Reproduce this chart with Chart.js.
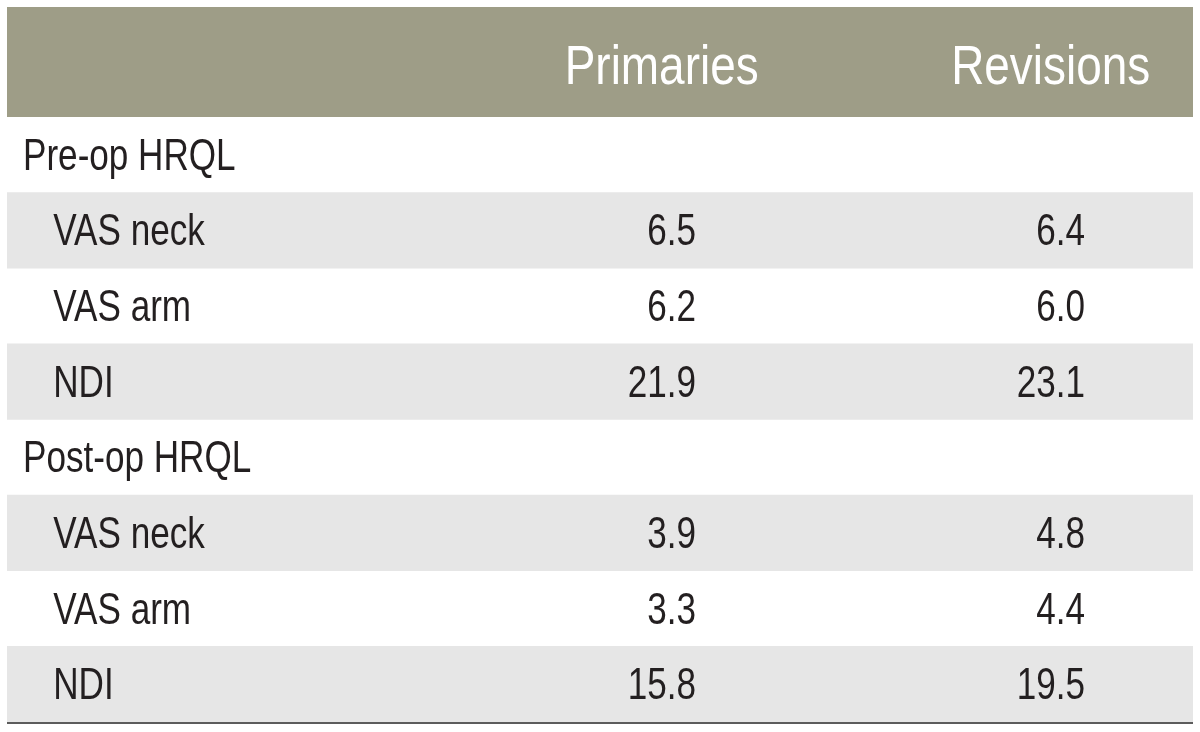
<!DOCTYPE html>
<html>
<head>
<meta charset="utf-8">
<script src="https://cdn.jsdelivr.net/npm/chart.js@4/dist/chart.umd.min.js"></script>
<style>
    html, body { margin: 0; padding: 0; background: #ffffff; }
    #wrap { width: 1200px; height: 732px; }
</style>
</head>
<body>
<div id="wrap"><canvas id="table"></canvas></div>
<script>
"use strict";

// Table content
const columnHeaders = ["Primaries", "Revisions"];
const rowLabels = [
    "Pre-op HRQL", "VAS neck", "VAS arm", "NDI",
    "Post-op HRQL", "VAS neck", "VAS arm", "NDI",
];
const rowIsSection = [true, false, false, false, true, false, false, false];
const primaries = [null, 6.5, 6.2, 21.9, null, 3.9, 3.3, 15.8];
const revisions = [null, 6.4, 6.0, 23.1, null, 4.8, 4.4, 19.5];

const FONT = '"Liberation Sans", Arial, sans-serif';
// squeeze the glyphs horizontally to look like a condensed face
const CONDENSE_BODY = 0.78;
const CONDENSE_HEAD = 0.82;
const TEXT_COLOR = "#231f20";
const HEADER_COLOR = "#9e9d87";
const STRIPE_COLOR = "#e6e6e6";

// Stripe every other item row inside a section (first item shaded)
let itemIdx = 0;
const stripes = rowLabels.map((_, i) => {
    if (rowIsSection[i]) {
        itemIdx = 0;
        return null;
    }
    const v = itemIdx % 2 === 0 ? 1 : null;
    itemIdx++;
    return v;
});

// Column anchors as fractions of the x scale (0..1)
const labelX = { section: 0.0135, item: 0.039 };
const valueRightX = [0.581, 0.909];
const headerCenterX = [0.552, 0.880];

function condensedText(ctx, text, x, y, sx) {
    ctx.save();
    ctx.translate(x, y);
    ctx.scale(sx, 1);
    ctx.fillText(text, 0, 0);
    ctx.restore();
}

const tablePlugin = {
    id: "tableText",
    beforeDatasetsDraw(chart) {
        const { ctx, chartArea } = chart;
        // header band
        ctx.save();
        ctx.fillStyle = HEADER_COLOR;
        ctx.fillRect(chartArea.left, 7, chartArea.right - chartArea.left, chartArea.top - 7);
        ctx.restore();
    },
    afterDatasetsDraw(chart) {
        const { ctx, chartArea, scales } = chart;
        const x = scales.x;
        const y = scales.y;

        ctx.save();
        ctx.textBaseline = "alphabetic";

        // column headers
        ctx.fillStyle = "#ffffff";
        ctx.font = "56px " + FONT;
        ctx.textAlign = "center";
        columnHeaders.forEach((h, c) => {
            condensedText(ctx, h, x.getPixelForValue(headerCenterX[c]), chartArea.top - 33, CONDENSE_HEAD);
        });

        // body rows
        ctx.fillStyle = TEXT_COLOR;
        ctx.font = "45px " + FONT;
        rowLabels.forEach((label, i) => {
            const base = y.getPixelForValue(i) + 15;
            ctx.textAlign = "left";
            const lx = rowIsSection[i] ? labelX.section : labelX.item;
            condensedText(ctx, label, x.getPixelForValue(lx), base, CONDENSE_BODY);

            ctx.textAlign = "right";
            [primaries, revisions].forEach((series, c) => {
                if (series[i] === null) return;
                condensedText(ctx, series[i].toFixed(1), x.getPixelForValue(valueRightX[c]), base, CONDENSE_BODY);
            });
        });

        // bottom rule
        ctx.strokeStyle = "#5c5c5c";
        ctx.lineWidth = 2;
        ctx.beginPath();
        ctx.moveTo(chartArea.left, chartArea.bottom + 1);
        ctx.lineTo(chartArea.right, chartArea.bottom + 1);
        ctx.stroke();
        ctx.restore();
    },
};

new Chart(document.getElementById("table"), {
    type: "bar",
    data: {
        labels: rowLabels,
        datasets: [
            {
                data: stripes,
                backgroundColor: STRIPE_COLOR,
                borderWidth: 0,
                barPercentage: 1,
                categoryPercentage: 1,
            },
        ],
    },
    options: {
        indexAxis: "y",
        responsive: true,
        maintainAspectRatio: false,
        animation: false,
        layout: {
            padding: { left: 7, right: 7, top: 117, bottom: 10 },
        },
        plugins: {
            legend: { display: false },
            tooltip: { enabled: false },
        },
        scales: {
            x: { type: "linear", min: 0, max: 1, display: false },
            y: { type: "category", display: false, offset: true },
        },
    },
    plugins: [tablePlugin],
});
</script>
</body>
</html>
